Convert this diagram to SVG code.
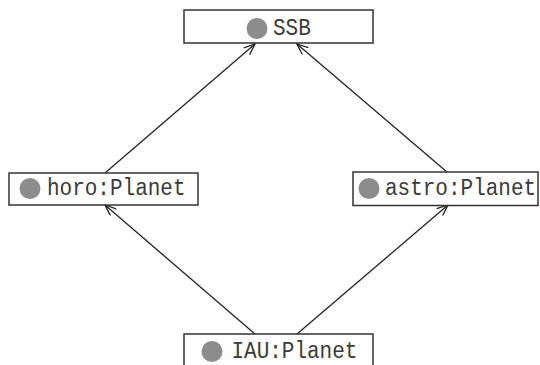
<svg xmlns="http://www.w3.org/2000/svg" width="540" height="365" viewBox="0 0 540 365">
<style>
.box{fill:#fff;stroke:#333;stroke-width:1.5}
.dot{fill:#8c8c8c}
.lbl{font-family:"Liberation Mono","DejaVu Sans Mono",monospace;font-size:21px;fill:#3a3a3a}
.edge{stroke:#222;stroke-width:1.3;fill:none}
</style>
<defs>
<marker id="arr" markerUnits="userSpaceOnUse" markerWidth="14" markerHeight="12" refX="12" refY="5" orient="auto">
<path d="M1,0.5 L12,5 L1,9.5" fill="none" stroke="#222" stroke-width="1.3"/>
</marker>
</defs>
<rect width="540" height="365" fill="#fff"/>
<g id="connectors">
<line class="edge" x1="105" y1="173" x2="255" y2="44" marker-end="url(#arr)"/>
<line class="edge" x1="447" y1="172" x2="297" y2="44" marker-end="url(#arr)"/>
<line class="edge" x1="255" y1="334" x2="105" y2="205" marker-end="url(#arr)"/>
<line class="edge" x1="297" y1="334" x2="448" y2="205" marker-end="url(#arr)"/>
</g>
<g id="ssb">
<rect class="box" x="184" y="10" width="189" height="33"/>
<circle class="dot" cx="257" cy="28.5" r="10.5"/>
<text class="lbl" x="273" y="35" transform="translate(0,-5.25) scale(1,1.15)">SSB</text>
</g>
<g id="horo">
<rect class="box" x="9" y="173" width="189" height="32"/>
<circle class="dot" cx="30" cy="188.5" r="10.5"/>
<text class="lbl" x="47" y="195" transform="translate(0,-29.25) scale(1,1.15)">horo:Planet</text>
</g>
<g id="astro">
<rect class="box" x="353" y="172" width="185" height="33.5"/>
<circle class="dot" cx="369" cy="188.5" r="10.5"/>
<text class="lbl" x="385" y="195" transform="translate(0,-29.25) scale(1,1.15)">astro:Planet</text>
</g>
<g id="iau">
<rect class="box" x="184" y="334" width="189" height="40"/>
<circle class="dot" cx="212" cy="351.5" r="10.5"/>
<text class="lbl" x="231.5" y="358.3" transform="translate(0,-53.745) scale(1,1.15)">IAU:Planet</text>
</g>
</svg>
